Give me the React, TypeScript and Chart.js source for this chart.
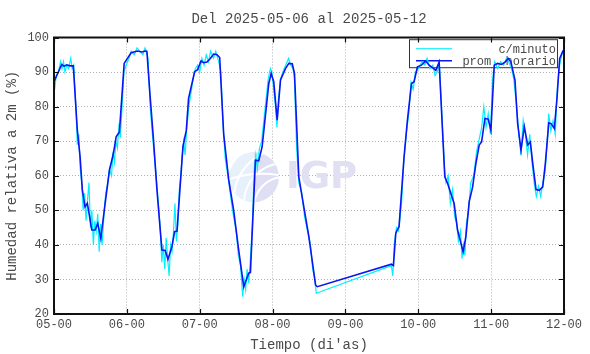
import { useEffect, useRef } from 'react';
import { Chart, registerables } from 'chart.js';

Chart.register(...registerables);

const TITLE = 'Del 2025-05-06 al 2025-05-12';
const X_LABEL = "Tiempo (di'as)";
const Y_LABEL = 'Humedad relativa a 2m (%)';
const SERIES_NAMES = ['c/minuto', 'prom. horario'];
const X_MIN = 5;
const X_MAX = 12;
const Y_MIN = 20;
const Y_MAX = 100;

// hourly average (day fraction, %)
const hourlyT = [
  5.000, 5.106, 5.138, 5.175, 5.220, 5.265, 5.320, 5.358, 5.389, 5.426, 5.458, 5.519, 5.564, 5.601, 5.642,
  5.702, 5.761, 5.816, 5.853, 5.898, 5.963, 6.059, 6.146, 6.206, 6.252, 6.275, 6.320, 6.366, 6.413, 6.481,
  6.527, 6.564, 6.619, 6.655, 6.688, 6.770, 6.816, 6.847, 6.930, 6.971, 7.018, 7.054, 7.100, 7.146, 7.191,
  7.238, 7.274, 7.329, 7.398, 7.466, 7.535, 7.604, 7.673, 7.696, 7.765, 7.810, 7.857, 7.948, 7.981, 8.016,
  8.063, 8.109, 8.177, 8.223, 8.270, 8.301, 8.360, 8.429, 8.498, 8.590, 8.614, 9.631, 9.659, 9.691, 9.736,
  9.805, 9.851, 9.907, 9.942, 9.989, 10.044, 10.103, 10.148, 10.195, 10.241, 10.286, 10.364, 10.402, 10.447,
  10.492, 10.539, 10.585, 10.616, 10.653, 10.699, 10.746, 10.791, 10.836, 10.869, 10.915, 10.960, 10.997,
  11.043, 11.089, 11.144, 11.190, 11.235, 11.272, 11.327, 11.364, 11.410, 11.455, 11.502, 11.538, 11.571,
  11.616, 11.662, 11.708, 11.744, 11.791, 11.822, 11.868, 11.905, 11.940, 11.985, 12.017,
];
const hourlyV = [
  87.2, 92.2, 91.7, 92.1, 91.8, 91.8, 73.2, 65.5, 55.9, 51.0, 52.0, 44.3, 44.3, 46.2, 41.9,
  52.0, 61.6, 66.5, 71.3, 72.7, 92.5, 95.6, 96.1, 95.8, 96.1, 96.0, 82.8, 70.3, 55.9, 38.5,
  38.4, 35.8, 39.5, 43.8, 44.0, 68.4, 73.2, 82.4, 90.1, 90.7, 93.2, 92.7, 92.9, 93.9, 95.2,
  95.0, 94.2, 72.0, 58.8, 50.0, 38.5, 27.9, 31.8, 32.0, 64.5, 64.3, 68.4, 86.7, 89.6, 87.2,
  76.1, 87.7, 91.0, 92.5, 92.4, 89.6, 59.7, 51.0, 42.4, 28.4, 27.9, 34.4, 34.0, 43.4, 45.3,
  65.5, 76.1, 86.7, 87.2, 91.5, 92.0, 93.2, 92.0, 91.3, 90.5, 92.9, 59.7, 57.8, 54.9,
  52.0, 44.3, 40.5, 38.0, 42.4, 52.5, 56.8, 63.6, 68.9, 69.8, 76.6, 76.4, 73.2,
  92.0, 92.5, 92.2, 92.9, 93.9, 92.9, 87.7, 75.1, 67.4, 74.2, 68.9, 69.8, 63.6,
  56.0, 55.8, 56.8, 63.6, 75.3, 75.1, 73.7, 82.8, 93.9, 96.1, 96.8,
];

const minuteT = [
  5.000, 5.010, 5.030, 5.060, 5.090, 5.110, 5.130, 5.150, 5.175, 5.200, 5.230, 5.250, 5.270, 5.300, 5.320,
  5.340, 5.360, 5.380, 5.400, 5.420, 5.440, 5.460, 5.480, 5.500, 5.520, 5.540, 5.560, 5.580, 5.600, 5.620,
  5.640, 5.660, 5.690, 5.710, 5.740, 5.760, 5.790, 5.810, 5.830, 5.850, 5.870, 5.890, 5.910, 5.940, 5.960,
  5.990, 6.030, 6.060, 6.100, 6.140, 6.180, 6.220, 6.250, 6.270, 6.290, 6.320, 6.350, 6.380, 6.410, 6.440,
  6.460, 6.480, 6.500, 6.520, 6.540, 6.560, 6.580, 6.600, 6.620, 6.640, 6.660, 6.680, 6.700, 6.720, 6.740,
  6.760, 6.780, 6.800, 6.820, 6.850, 6.880, 6.910, 6.940, 6.970, 7.000, 7.030, 7.060, 7.090, 7.120, 7.150,
  7.190, 7.220, 7.260, 7.290, 7.320, 7.350, 7.400, 7.450, 7.500, 7.530, 7.560, 7.590, 7.610, 7.630, 7.650,
  7.670, 7.690, 7.720, 7.750, 7.770, 7.790, 7.820, 7.850, 7.880, 7.910, 7.940, 7.970, 7.990, 8.010, 8.040,
  8.060, 8.080, 8.110, 8.140, 8.180, 8.220, 8.250, 8.280, 8.300, 8.330, 8.360, 8.400, 8.440, 8.480, 8.520,
  8.550, 8.580, 8.600, 9.630, 9.650, 9.670, 9.700, 9.730, 9.770, 9.800, 9.840, 9.870, 9.900, 9.930, 9.960,
  10.000, 10.050, 10.090, 10.120, 10.160, 10.200, 10.230, 10.260, 10.290, 10.330, 10.360, 10.380, 10.410,
  10.440, 10.470, 10.500, 10.530, 10.550, 10.580, 10.600, 10.620, 10.640, 10.660, 10.690, 10.720, 10.760,
  10.800, 10.830, 10.870, 10.900, 10.930, 10.960, 10.990, 11.020, 11.050, 11.090, 11.130, 11.170, 11.210,
  11.240, 11.280, 11.310, 11.350, 11.380, 11.410, 11.440, 11.470, 11.500, 11.530, 11.560, 11.590, 11.620,
  11.650, 11.680, 11.710, 11.740, 11.770, 11.790, 11.820, 11.850, 11.880, 11.910, 11.940, 11.970, 12.000,
];
const minuteV = [
  88, 85, 89, 90, 93, 91, 93, 90, 92, 91, 94, 91, 92, 80, 69,
  72, 62, 58, 50, 55, 47, 53, 58, 45, 50, 40, 47, 44, 49, 38,
  46, 40, 50, 55, 58, 62, 60, 67, 64, 70, 68, 74, 71, 82, 90,
  92, 94, 96, 95, 97, 96, 95, 97, 96, 94, 80, 72, 65, 58, 50,
  44, 35, 40, 33, 42, 36, 31, 40, 38, 44, 52, 41, 46, 56, 60,
  66, 70, 66, 73, 80, 84, 88, 91, 92, 90, 94, 92, 95, 93, 96,
  94, 96, 93, 90, 75, 65, 58, 50, 44, 37, 34, 25, 30, 27, 33,
  29, 34, 45, 62, 66, 62, 68, 70, 76, 82, 88, 91, 90, 86, 80,
  74, 82, 88, 90, 92, 94, 92, 91, 88, 68, 58, 55, 48, 44, 40,
  33, 30, 26, 34, 31, 40, 45, 44, 52, 64, 73, 78, 87, 85, 90,
  91, 93, 92, 94, 91, 92, 89, 90, 92, 75, 62, 58, 60,
  52, 56, 48, 46, 41, 44, 36, 40, 37, 46, 50, 58, 60,
  67, 70, 74, 80, 74, 78, 72, 88, 93, 91, 93, 92, 94,
  93, 91, 88, 80, 72, 66, 76, 72, 66, 72, 64, 58, 54,
  57, 54, 58, 61, 70, 78, 73, 76, 72, 86, 92, 95, 96,
];

const FONT = "'Liberation Mono', 'DejaVu Sans Mono', monospace";
const TEXT_COLOR = '#4a4a4a';
const CYAN = '#00f0ff';
const BLUE = '#0a14f5';

const decorPlugin = {
  id: 'decor',
  beforeDatasetsDraw(chart: any) {
    const { ctx, chartArea: a } = chart;
    const w = a.right - a.left;
    const h = a.bottom - a.top;
    ctx.save();
    // watermark logo
    const cx = a.left + w * 0.392;
    const cy = a.top + h * 0.505;
    const r = 25;
    ctx.beginPath();
    ctx.arc(cx, cy, r, 0, Math.PI * 2);
    ctx.fillStyle = '#dfdff3';
    ctx.fill();
    ctx.save();
    ctx.beginPath();
    ctx.arc(cx, cy, r, 0, Math.PI * 2);
    ctx.clip();
    ctx.fillStyle = '#e6f1fb';
    ctx.fillRect(cx - r, cy - r, r, 2 * r);
    ctx.strokeStyle = '#ffffff';
    ctx.lineWidth = 2;
    for (let i = 0; i < 4; i++) {
      ctx.beginPath();
      ctx.arc(cx + 30, cy + 30 - i * 4, 30 + i * 10, Math.PI, Math.PI * 1.5);
      ctx.stroke();
    }
    ctx.beginPath();
    ctx.moveTo(cx - r, cy + 2);
    ctx.quadraticCurveTo(cx, cy - 6, cx + r, cy - 2);
    ctx.stroke();
    ctx.restore();
    ctx.fillStyle = '#e0e0f2';
    ctx.font = "bold 37px 'DejaVu Sans', sans-serif";
    ctx.textBaseline = 'middle';
    ctx.textAlign = 'left';
    ctx.fillText('IGP', cx + 32, cy + 1);

    // legend box
    const bx = a.right - 155;
    const by = a.top + 1.7;
    const bw = 148;
    const bh = 28;
    ctx.fillStyle = '#ffffff';
    ctx.fillRect(bx, by, bw, bh);
    ctx.strokeStyle = '#333';
    ctx.lineWidth = 1;
    ctx.strokeRect(bx + 0.5, by + 0.5, bw, bh);
    ctx.font = `12px ${FONT}`;
    ctx.fillStyle = TEXT_COLOR;
    ctx.textAlign = 'right';
    ctx.textBaseline = 'middle';
    const rows = [
      { y: by + 9.5, color: CYAN, width: 1, label: SERIES_NAMES[0] },
      { y: by + 21.5, color: BLUE, width: 1.6, label: SERIES_NAMES[1] },
    ];
    for (const row of rows) {
      ctx.beginPath();
      ctx.strokeStyle = row.color;
      ctx.lineWidth = row.width;
      ctx.moveTo(bx + 7, row.y);
      ctx.lineTo(bx + 43, row.y);
      ctx.stroke();
      ctx.fillText(row.label, bx + bw - 1, row.y + 1);
    }
    ctx.restore();
  },
  afterDatasetsDraw(chart: any) {
    const { ctx, chartArea: a, scales } = chart;
    ctx.save();
    ctx.strokeStyle = '#111';
    ctx.lineWidth = 1.2;
    const tl = 5;
    ctx.beginPath();
    for (const t of scales.x.ticks) {
      const px = Math.round(scales.x.getPixelForValue(t.value)) + 0.5;
      ctx.moveTo(px, a.bottom);
      ctx.lineTo(px, a.bottom - tl);
      ctx.moveTo(px, a.top);
      ctx.lineTo(px, a.top + tl);
    }
    for (const t of scales.y.ticks) {
      const py = Math.round(scales.y.getPixelForValue(t.value)) + 0.5;
      ctx.moveTo(a.left, py);
      ctx.lineTo(a.left + tl, py);
      ctx.moveTo(a.right, py);
      ctx.lineTo(a.right - tl, py);
    }
    ctx.stroke();
    ctx.lineWidth = 2;
    ctx.strokeRect(a.left, a.top, a.right - a.left, a.bottom - a.top);

    // title centred over the plot area
    ctx.font = `14px ${FONT}`;
    ctx.fillStyle = TEXT_COLOR;
    ctx.textAlign = 'center';
    ctx.textBaseline = 'middle';
    ctx.fillText(TITLE, (a.left + a.right) / 2, 19);
    ctx.restore();
  },
};

export default function App() {
  const ref = useRef<HTMLCanvasElement | null>(null);
  useEffect(() => {
    document.body.style.margin = '0';
    const canvas = ref.current;
    if (!canvas) return;
    const chart = new Chart(canvas, {
      type: 'line',
      data: {
        datasets: [
          {
            label: SERIES_NAMES[0],
            data: minuteT.map((t, i) => ({ x: t, y: minuteV[i] })),
            borderColor: CYAN,
            borderWidth: 1.2,
            pointRadius: 0,
            tension: 0,
            order: 2,
          },
          {
            label: SERIES_NAMES[1],
            data: hourlyT.map((t, i) => ({ x: t, y: hourlyV[i] })),
            borderColor: BLUE,
            borderWidth: 1.6,
            pointRadius: 0,
            tension: 0,
            order: 1,
          },
        ],
      },
      options: {
        animation: false,
        responsive: false,
        maintainAspectRatio: false,
        layout: { padding: { left: 0, right: 26, top: 37.5, bottom: 0 } },
        plugins: {
          legend: { display: false },
          tooltip: { enabled: false },
          title: { display: false },
        },
        scales: {
          x: {
            type: 'linear',
            min: X_MIN,
            max: X_MAX,
            ticks: {
              stepSize: 1,
              color: TEXT_COLOR,
              font: { family: FONT, size: 12 },
              padding: 4,
              maxRotation: 0,
              callback: (v: any) => `${String(v).padStart(2, '0')}-00`,
            },
            grid: { color: '#b0b0b0', drawTicks: false, lineWidth: 1 },
            border: { display: false, dash: [1, 2] },
            title: {
              display: true,
              text: X_LABEL,
              color: TEXT_COLOR,
              font: { family: FONT, size: 14 },
              padding: { top: 0, bottom: 0 },
            },
            afterFit: (s: any) => {
              s.height = 40;
            },
          },
          y: {
            min: Y_MIN,
            max: Y_MAX,
            ticks: {
              stepSize: 10,
              color: TEXT_COLOR,
              font: { family: FONT, size: 12 },
              padding: 5,
            },
            grid: { color: '#b0b0b0', drawTicks: false, lineWidth: 1 },
            border: { display: false, dash: [1, 2] },
            title: {
              display: true,
              text: Y_LABEL,
              color: TEXT_COLOR,
              font: { family: FONT, size: 14 },
              padding: { top: 4, bottom: 0 },
            },
            afterFit: (s: any) => {
              s.width = 54;
            },
          },
        },
      },
      plugins: [decorPlugin],
    } as any);
    return () => chart.destroy();
  }, []);
  return (
    <div style={{ width: 590, height: 354 }}>
      <canvas ref={ref} width={590} height={354} style={{ display: 'block', width: 590, height: 354 }} />
    </div>
  );
}
